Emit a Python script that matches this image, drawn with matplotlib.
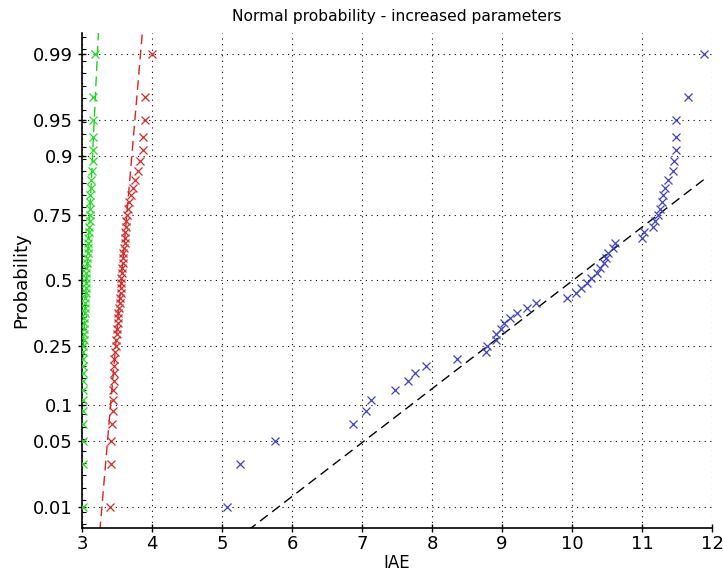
import math
import numpy as np
import matplotlib
matplotlib.use("Agg")
import matplotlib.pyplot as plt
from matplotlib.ticker import FixedLocator, FixedFormatter, NullFormatter

# sorted IAE samples (50 runs each)
iae_blue = [5.07, 5.25, 5.75, 6.87, 7.06, 7.13, 7.47, 7.66, 7.75, 7.91,
            8.35, 8.77, 8.79, 8.91, 8.92, 8.98, 9.03, 9.12, 9.22, 9.35,
            9.49, 9.93, 10.06, 10.13, 10.22, 10.27, 10.36, 10.40, 10.46, 10.49,
            10.52, 10.58, 10.62, 11.00, 11.03, 11.16, 11.18, 11.23, 11.25, 11.28,
            11.30, 11.33, 11.37, 11.44, 11.45, 11.48, 11.49, 11.49, 11.66, 11.89]
iae_red = [3.40, 3.42, 3.42, 3.43, 3.44, 3.44, 3.44, 3.45, 3.45, 3.46,
           3.46, 3.47, 3.48, 3.49, 3.50, 3.50, 3.51, 3.52, 3.52, 3.53,
           3.54, 3.54, 3.55, 3.55, 3.56, 3.56, 3.57, 3.57, 3.58, 3.59,
           3.59, 3.60, 3.61, 3.61, 3.62, 3.63, 3.63, 3.64, 3.65, 3.67,
           3.70, 3.73, 3.76, 3.80, 3.83, 3.87, 3.87, 3.90, 3.90, 4.00]
iae_green = [3.01, 3.01, 3.02, 3.02, 3.02, 3.02, 3.02, 3.02, 3.02, 3.02,
             3.02, 3.02, 3.02, 3.03, 3.03, 3.03, 3.03, 3.03, 3.04, 3.04,
             3.04, 3.04, 3.05, 3.05, 3.05, 3.06, 3.06, 3.06, 3.07, 3.07,
             3.08, 3.08, 3.09, 3.09, 3.10, 3.10, 3.11, 3.11, 3.12, 3.12,
             3.12, 3.13, 3.13, 3.14, 3.15, 3.15, 3.15, 3.15, 3.15, 3.18]

prob_ticks = [0.01, 0.05, 0.1, 0.25, 0.5, 0.75, 0.9, 0.95, 0.99]
prob_labels = ["0.01", "0.05", "0.1", "0.25", "0.5", "0.75", "0.9", "0.95", "0.99"]
x_ticks = [3, 4, 5, 6, 7, 8, 9, 10, 11, 12]


# inverse normal cdf (Acklam) and normal cdf, no scipy here
A = [-3.969683028665376e+01, 2.209460984245205e+02, -2.759285104469687e+02,
     1.383577518672690e+02, -3.066479806614716e+01, 2.506628277459239e+00]
B = [-5.447609879822406e+01, 1.615858368580409e+02, -1.556989798598866e+02,
     6.680131188771972e+01, -1.328068155288572e+01]
C = [-7.784894002430293e-03, -3.223964580411365e-01, -2.400758277161838e+00,
     -2.549671010233320e+00, 4.374664141464968e+00, 2.938163982698783e+00]
D = [7.784695709041462e-03, 3.224671290700398e-01, 2.445134137142996e+00,
     3.754408661907416e+00]


def _tail(q):
    num = ((((C[0] * q + C[1]) * q + C[2]) * q + C[3]) * q + C[4]) * q + C[5]
    den = (((D[0] * q + D[1]) * q + D[2]) * q + D[3]) * q + 1
    return num / den


def ppf(p):
    p = np.asarray(p, dtype=float)
    shape = p.shape
    p = np.clip(np.atleast_1d(p).ravel(), 1e-12, 1 - 1e-12)
    z = np.empty_like(p)
    lo = p < 0.02425
    hi = p > 1 - 0.02425
    mid = ~(lo | hi)
    z[lo] = _tail(np.sqrt(-2 * np.log(p[lo])))
    z[hi] = -_tail(np.sqrt(-2 * np.log(1 - p[hi])))
    q = p[mid] - 0.5
    r = q * q
    z[mid] = ((((((A[0] * r + A[1]) * r + A[2]) * r + A[3]) * r + A[4]) * r + A[5]) * q /
              (((((B[0] * r + B[1]) * r + B[2]) * r + B[3]) * r + B[4]) * r + 1))
    return z.reshape(shape)


_erf = np.vectorize(math.erf, otypes=[float])


def cdf(z):
    return 0.5 * (1 + _erf(np.asarray(z, dtype=float) / math.sqrt(2)))


fig = plt.figure(figsize=(7.23, 5.76), dpi=100)
ax = fig.add_axes([82 / 723, 48 / 576, 630 / 723, 495 / 576])
ax.set_yscale("function", functions=(ppf, cdf))

series = [(iae_green, "#22dd22", "#22cc22"),
          (iae_red, "#d42a2a", "#dd2222"),
          (iae_blue, "#4040c8", "black")]
all_x = np.concatenate([np.asarray(s[0]) for s in series])
for vals, mcol, lcol in series:
    x = np.sort(np.asarray(vals))
    n = len(x)
    p = (np.arange(1, n + 1) - 0.5) / n
    ax.plot(x, p, "x", color=mcol, ms=6, mew=0.9, zorder=3)
    # reference line through the quartiles (normplot style)
    q1, q3 = np.percentile(x, [25, 75], method="hazen")
    z1, z3 = ppf(0.25), ppf(0.75)
    slope = (z3 - z1) / (q3 - q1)
    cx, cz = (q1 + q3) / 2, (z1 + z3) / 2
    xa = max(all_x.min(), cx + (-3.5 - cz) / slope)
    xb = min(all_x.max(), cx + (3.5 - cz) / slope)
    xs = np.array([xa, xb])
    ax.plot(xs, cdf(cz + slope * (xs - cx)), color=lcol, lw=1.0,
            dashes=(7, 4), zorder=2)

ax.set_xlim(3, 12)
ax.set_ylim(float(cdf(-2.54)), float(cdf(2.54)))
ax.set_xticks(x_ticks)
ax.yaxis.set_major_locator(FixedLocator(prob_ticks))
ax.yaxis.set_major_formatter(FixedFormatter(prob_labels))
ax.yaxis.set_minor_locator(FixedLocator(cdf(np.arange(-2.5, 2.55, 0.125))))
ax.yaxis.set_minor_formatter(NullFormatter())

ax.grid(True, which="major", color="black", linestyle=(0, (1, 4)), lw=0.8)
for side in ("top", "right"):
    ax.spines[side].set_visible(False)
ax.spines["left"].set_linewidth(1.2)
ax.spines["bottom"].set_linewidth(1.2)
ax.tick_params(axis="both", which="major", direction="inout", length=6,
               width=1.0, labelsize=13)
ax.tick_params(axis="x", which="major", pad=2)
ax.tick_params(axis="y", which="minor", direction="in", length=3, width=0.8)

ax.set_title("Normal probability - increased parameters", fontsize=11.2, pad=9)
ax.set_xlabel("IAE", fontsize=12, labelpad=1)
ax.set_ylabel("Probability", fontsize=13, labelpad=2)

fig.savefig("out.png", dpi=100)
